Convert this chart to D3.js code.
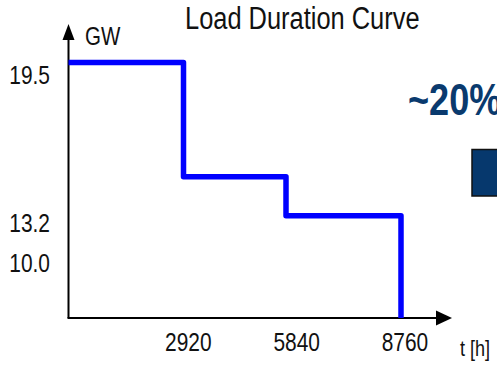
<!DOCTYPE html>
<html>
<head>
<meta charset="utf-8">
<script src="https://cdn.jsdelivr.net/npm/d3@7"></script>
<style>
  body { margin: 0; background: #fff; }
  svg { display: block; }
</style>
</head>
<body>
<script>
// chart data
const title = "Load Duration Curve";
const hours = [0, 2920, 5840, 8760];
const loadGW = [19.5, 14.8, 13.2];
const xTicks = [2920, 5840, 8760];
const yTicks = [19.5, 13.2, 10.0];
const yUnit = "GW";
const xUnit = "t [h]";
const callout = "~20%";

const W = 497, H = 365;
const FONT = "'Liberation Sans Narrow', 'Arial Narrow', 'Liberation Sans', Arial, sans-serif";

// check whether a narrow face is installed, otherwise squeeze the regular one
const ctx = document.createElement("canvas").getContext("2d");
ctx.font = "30px " + FONT;
const wNarrow = ctx.measureText(title).width;
ctx.font = "30px 'Liberation Sans', Arial, sans-serif";
const wWide = ctx.measureText(title).width;
const hasNarrow = wNarrow / wWide < 0.9;

const narrow = function (sel) {
    if (hasNarrow) return;
    sel.each(function () {
        const w = this.getComputedTextLength();
        d3.select(this)
            .attr("textLength", w * 0.82)
            .attr("lengthAdjust", "spacingAndGlyphs");
    });
};

const svg = d3.select(document.body).append("svg")
    .attr("width", W)
    .attr("height", H)
    .style("font-family", FONT);

// scales: the slide is hand drawn, so the steps are not evenly spaced
const x = d3.scaleLinear().domain(hours).range([68.5, 183.5, 286, 401]);
const xLabel = d3.scaleLinear().domain([0, 8760]).range([80, 405]);
const y = d3.scaleLinear().domain([9, 19.5]).range([318, 62.5]);
const yLabel = d3.scaleLinear().domain([10, 13.2, 19.5]).range([272, 231.5, 84]);

const x0 = x(0), y0 = y(9);

// axes with arrow heads
svg.append("line")
    .attr("x1", x0).attr("y1", y0)
    .attr("x2", x0).attr("y2", 38)
    .attr("stroke", "#000").attr("stroke-width", 2);
svg.append("path")
    .attr("d", `M${x0},24L${x0 - 6},40L${x0 + 6},40Z`)
    .attr("fill", "#000");
svg.append("line")
    .attr("x1", x0 - 1).attr("y1", y0)
    .attr("x2", 438).attr("y2", y0)
    .attr("stroke", "#000").attr("stroke-width", 2);
svg.append("path")
    .attr("d", `M452,${y0}L436,${y0 - 7.5}L436,${y0 + 7.5}Z`)
    .attr("fill", "#000");

// step curve
const pts = loadGW.map((v, i) => [hours[i], v]);
pts.push([hours[hours.length - 1], loadGW[loadGW.length - 1]]);
pts.push([hours[hours.length - 1], y.domain()[0]]);
const line = d3.line()
    .x(d => x(d[0]))
    .y(d => y(d[1]))
    .curve(d3.curveStepAfter);
svg.append("path")
    .datum(pts)
    .attr("d", line)
    .attr("fill", "none")
    .attr("stroke", "#0000ff")
    .attr("stroke-width", 5.5)
    .attr("stroke-linejoin", "round");

// tick labels
svg.selectAll(".ytick")
    .data(yTicks)
    .enter().append("text")
    .attr("class", "ytick")
    .attr("x", 50)
    .attr("y", d => yLabel(d))
    .attr("text-anchor", "end")
    .attr("font-size", 25.5)
    .attr("fill", "#111")
    .text(d => d.toFixed(1))
    .call(narrow);

svg.selectAll(".xtick")
    .data(xTicks)
    .enter().append("text")
    .attr("class", "xtick")
    .attr("x", d => xLabel(d))
    .attr("y", 351)
    .attr("text-anchor", "middle")
    .attr("font-size", 25.5)
    .attr("fill", "#111")
    .text(d => d)
    .call(narrow);

svg.append("text")
    .attr("x", 85).attr("y", 45)
    .attr("font-size", 25)
    .attr("fill", "#111")
    .text(yUnit)
    .call(narrow);

svg.append("text")
    .attr("x", 460).attr("y", 356)
    .attr("font-size", 22)
    .attr("fill", "#111")
    .text(xUnit)
    .call(narrow);

svg.append("text")
    .attr("x", 185).attr("y", 28.5)
    .attr("font-size", 31)
    .attr("fill", "#111")
    .text(title)
    .call(narrow);

// callout on the right, cut off by the frame
svg.append("text")
    .attr("x", 408).attr("y", 115)
    .attr("font-size", 44)
    .attr("font-weight", "bold")
    .attr("fill", "#0a3a6e")
    .text(callout)
    .call(narrow);

svg.append("rect")
    .attr("x", 472).attr("y", 149.5)
    .attr("width", 40).attr("height", 46.5)
    .attr("fill", "#06386d")
    .attr("stroke", "#111")
    .attr("stroke-width", 1.5);
</script>
</body>
</html>
